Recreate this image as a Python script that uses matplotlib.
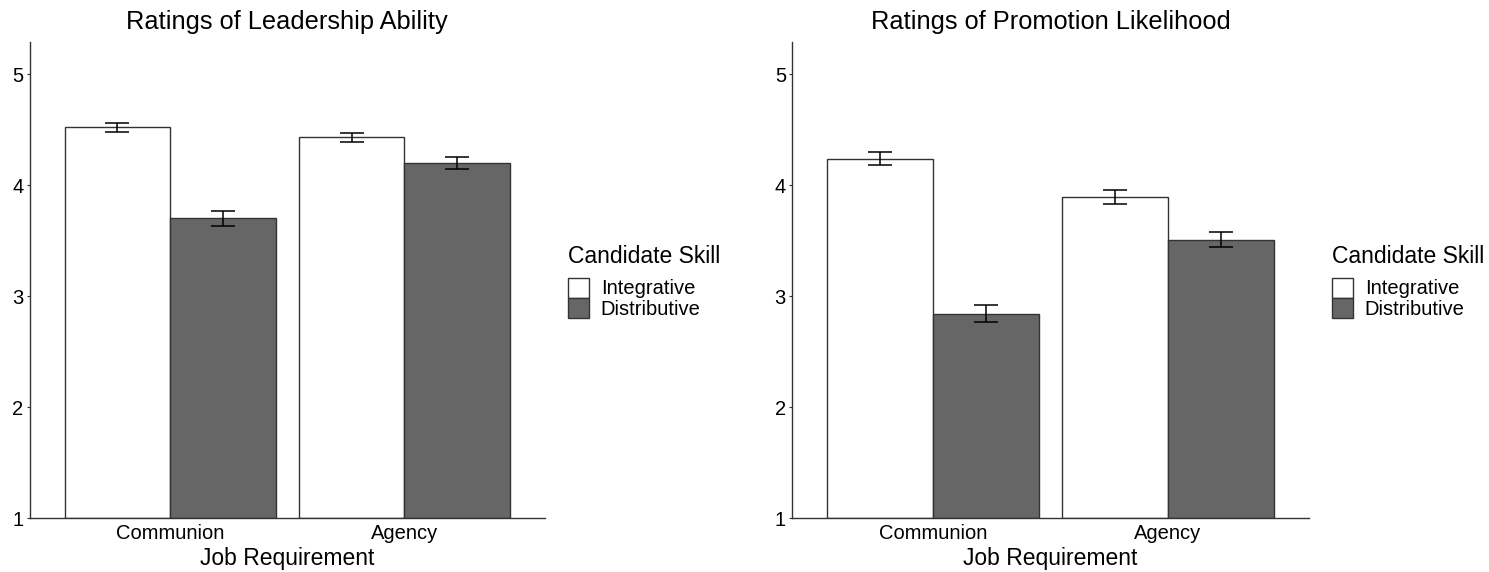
import matplotlib.pyplot as plt
from matplotlib.patches import Patch
import numpy as np

plt.rcParams['font.family'] = ['Liberation Sans', 'DejaVu Sans']

categories = ["Communion", "Agency"]
skills = ["Integrative", "Distributive"]
skill_colors = {"Integrative": "white", "Distributive": "#666666"}

leader_integrative = [4.52, 4.43]
leader_distributive = [3.70, 4.20]
leader_int_err = [0.04, 0.04]
leader_dist_err = [0.065, 0.051]

promo_integrative = [4.24, 3.89]
promo_distributive = [2.84, 3.51]
promo_int_err = [0.056, 0.063]
promo_dist_err = [0.077, 0.071]

panels = [
    ("Ratings of Leadership Ability", leader_integrative, leader_distributive,
     leader_int_err, leader_dist_err),
    ("Ratings of Promotion Likelihood", promo_integrative, promo_distributive,
     promo_int_err, promo_dist_err),
]

W, H = 1489, 572
fig = plt.figure(figsize=(W / 100, H / 100), dpi=100)
fig.patch.set_facecolor('white')

# axes boxes in pixels: left, right, top, bottom
boxes = [(29.5, 545, 42, 518), (792, 1309, 42, 518)]
legend_x = [567.5, 1331.5]

bw = 0.45
for (title, ints, dists, ierr, derr), (l, r, t, b), lx in zip(panels, boxes, legend_x):
    ax = fig.add_axes([l / W, 1 - b / H, (r - l) / W, (b - t) / H])
    x = np.arange(1, len(categories) + 1)
    for vals, errs, skill, off in [(ints, ierr, "Integrative", -bw / 2),
                                   (dists, derr, "Distributive", bw / 2)]:
        ax.bar(x + off, np.array(vals) - 1, bottom=1, width=bw,
               color=skill_colors[skill], edgecolor='#333333', linewidth=1.0)
        ax.errorbar(x + off, vals, yerr=errs, fmt='none', ecolor='black',
                    elinewidth=1.1, capsize=8.5, capthick=1.1)
    ax.set_xlim(0.4, 2.6)
    ax.set_ylim(1, 5.29)
    ax.set_yticks([1, 2, 3, 4, 5])
    ax.set_xticks(x)
    ax.set_xticklabels(categories)
    for s in ['top', 'right']:
        ax.spines[s].set_visible(False)
    for s in ['left', 'bottom']:
        ax.spines[s].set_color('#333333')
        ax.spines[s].set_linewidth(1.0)
    ax.tick_params(axis='both', labelsize=14.5, color='#333333', length=2.2,
                   width=0.8, pad=2.2)
    ax.tick_params(axis='x', length=0, pad=4.5)
    ax.set_xlabel("Job Requirement", fontsize=16.5, labelpad=2.5)
    ax.set_title(title, fontsize=18.3, pad=9)

    handles = [Patch(facecolor=skill_colors[s], edgecolor='#333333', linewidth=1.0)
               for s in skills]
    leg = fig.legend(handles, skills, title="Candidate Skill", loc='center left',
                     bbox_to_anchor=(lx / W, 1 - 282 / H), frameon=False,
                     fontsize=14.5, title_fontsize=16.5, alignment='left',
                     handlelength=1.05, handleheight=1.15, handletextpad=0.6,
                     labelspacing=0.0, borderaxespad=0, borderpad=0)
    leg._legend_box.sep = 7

fig.savefig("out.png", dpi=100, facecolor='white')
